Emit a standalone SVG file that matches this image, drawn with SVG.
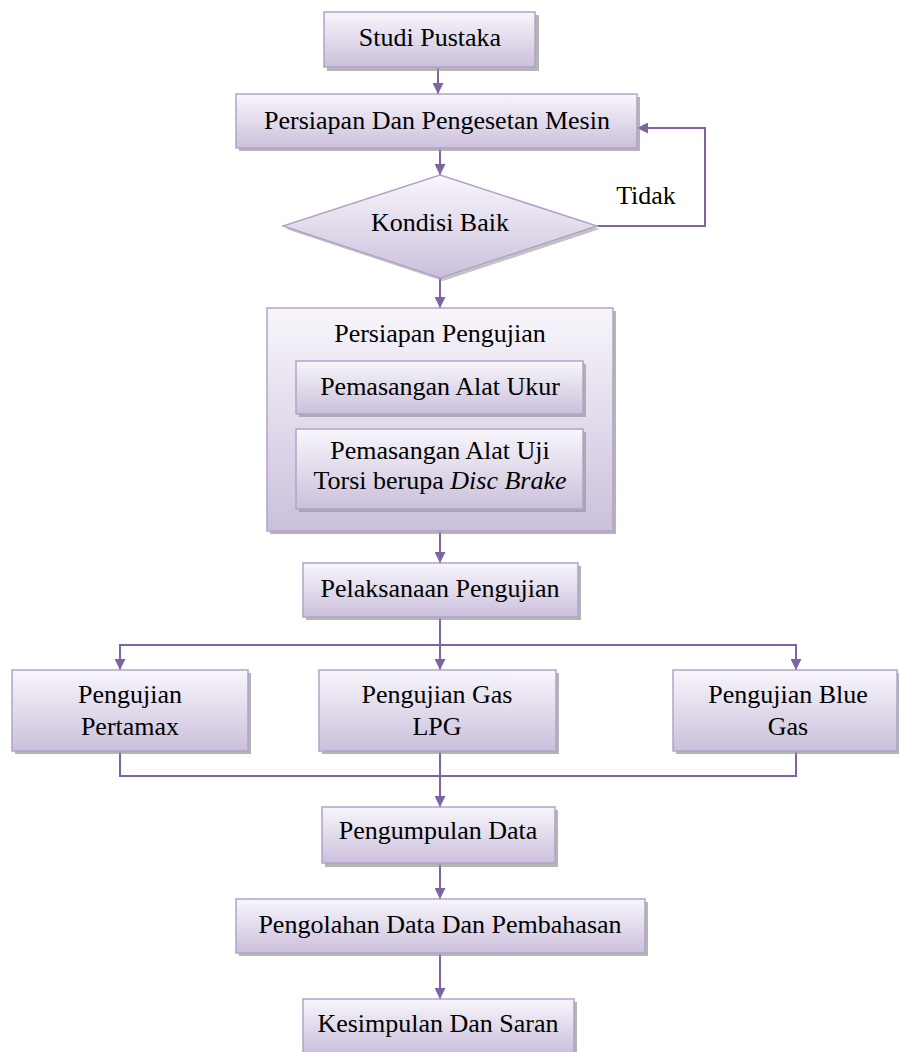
<svg xmlns="http://www.w3.org/2000/svg" width="899" height="1052" viewBox="0 0 899 1052">
<style>
.box{fill:url(#g);stroke:#b3a2c7;stroke-width:1.5}
.sh{fill:#9c9c9c;opacity:0.75}
.t{font-family:"Liberation Serif","Times New Roman",serif;font-size:26px;fill:#000;text-anchor:middle}
.c{fill:none;stroke:#8064a2;stroke-width:2}
</style>
<defs>
<linearGradient id="g" x1="0" y1="0" x2="0" y2="1">
<stop offset="0" stop-color="#f8f6fb"/>
<stop offset="1" stop-color="#cbc0dc"/>
</linearGradient>
<marker id="a" viewBox="0 0 10 10" refX="10" refY="5" markerWidth="6" markerHeight="6" orient="auto" markerUnits="userSpaceOnUse">
<path d="M0,0 L10,5 L0,10 z" fill="#8064a2"/>
</marker>
<marker id="b" viewBox="0 0 10 10" refX="10" refY="5" markerWidth="11" markerHeight="11" orient="auto" markerUnits="userSpaceOnUse">
<path d="M0,0 L10,5 L0,10 z" fill="#8064a2"/>
</marker>
</defs>
<rect width="899" height="1052" fill="#ffffff"/>

<g id="connectors">
<path class="c" d="M438,68 V94" marker-end="url(#b)"/>
<path class="c" d="M440,148 V175" marker-end="url(#b)"/>
<path class="c" d="M597,226 H705 V128 H637" marker-end="url(#b)"/>
<path class="c" d="M440,278 V308" marker-end="url(#b)"/>
<path class="c" d="M440,531 V563" marker-end="url(#b)"/>
<path class="c" d="M440,617 V670" marker-end="url(#b)"/>
<path class="c" d="M120,670 V645 H796 V670" />
<path class="c" d="M120,660 V670" marker-end="url(#b)"/>
<path class="c" d="M796,660 V670" marker-end="url(#b)"/>
<path class="c" d="M120,751 V776 H796 V751"/>
<path class="c" d="M440,751 V807" marker-end="url(#b)"/>
<path class="c" d="M440,863 V899" marker-end="url(#b)"/>
<path class="c" d="M440,953 V999" marker-end="url(#b)"/>
</g>

<g id="studi">
<rect class="sh" x="327" y="15" width="212" height="56"/>
<rect class="box" x="324" y="12" width="211" height="55"/>
<text class="t" x="430" y="46">Studi Pustaka</text>
</g>

<g id="persiapan">
<rect class="sh" x="239" y="97" width="401" height="54"/>
<rect class="box" x="236" y="94" width="401" height="54"/>
<text class="t" x="437" y="129">Persiapan Dan Pengesetan Mesin</text>
</g>

<g id="kondisi">
<polygon points="443,178 600,229 443,281 286,229" fill="#9c9c9c" opacity="0.6"/>
<polygon class="box" points="440,175 597,226 440,278 283,226"/>
<text class="t" x="440" y="231">Kondisi Baik</text>
</g>

<g id="tidak">
<text class="t" x="646" y="204">Tidak</text>
</g>

<g id="persiapan-pengujian">
<rect class="sh" x="270" y="311" width="346" height="223"/>
<rect class="box" x="267" y="308" width="346" height="223"/>
<text class="t" x="440" y="342">Persiapan Pengujian</text>
</g>

<g id="alat-ukur">
<rect class="sh" x="299" y="364" width="287" height="53"/>
<rect class="box" x="296" y="361" width="287" height="53"/>
<text class="t" x="440" y="395">Pemasangan Alat Ukur</text>
</g>

<g id="alat-uji">
<rect class="sh" x="299" y="432" width="287" height="80"/>
<rect class="box" x="296" y="429" width="287" height="80"/>
<text class="t" x="440" y="459">Pemasangan Alat Uji</text>
<text class="t" x="440" y="489">Torsi berupa <tspan font-style="italic">Disc Brake</tspan></text>
</g>

<g id="pelaksanaan">
<rect class="sh" x="306" y="566" width="275" height="54"/>
<rect class="box" x="303" y="563" width="275" height="54"/>
<text class="t" x="440" y="597">Pelaksanaan Pengujian</text>
</g>

<g id="pertamax">
<rect class="sh" x="15" y="673" width="236" height="81"/>
<rect class="box" x="12" y="670" width="236" height="81"/>
<text class="t" x="130" y="703">Pengujian</text>
<text class="t" x="130" y="735">Pertamax</text>
</g>

<g id="lpg">
<rect class="sh" x="322" y="673" width="237" height="81"/>
<rect class="box" x="319" y="670" width="237" height="81"/>
<text class="t" x="437" y="703">Pengujian Gas</text>
<text class="t" x="437" y="735">LPG</text>
</g>

<g id="bluegas">
<rect class="sh" x="676" y="673" width="223" height="81"/>
<rect class="box" x="673" y="670" width="224" height="81"/>
<text class="t" x="788" y="703">Pengujian Blue</text>
<text class="t" x="788" y="735">Gas</text>
</g>

<g id="pengumpulan">
<rect class="sh" x="325" y="810" width="233" height="57"/>
<rect class="box" x="322" y="807" width="233" height="56"/>
<text class="t" x="438" y="839">Pengumpulan Data</text>
</g>

<g id="pengolahan">
<rect class="sh" x="239" y="902" width="409" height="54"/>
<rect class="box" x="236" y="899" width="409" height="54"/>
<text class="t" x="440" y="933">Pengolahan Data Dan Pembahasan</text>
</g>

<g id="kesimpulan">
<rect class="sh" x="306" y="1002" width="271" height="54"/>
<rect class="box" x="303" y="999" width="271" height="54"/>
<text class="t" x="438" y="1032">Kesimpulan Dan Saran</text>
</g>
</svg>
